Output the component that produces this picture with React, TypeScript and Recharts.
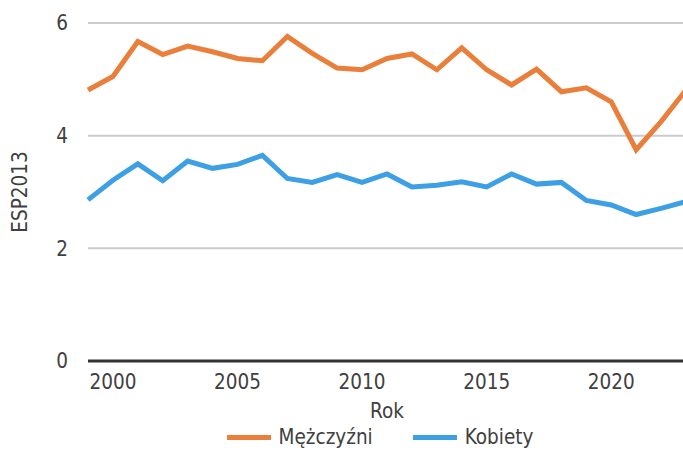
import React from 'react';
import { LineChart, Line, XAxis, YAxis, CartesianGrid, Legend, ReferenceLine } from 'recharts';

const years = [
  1999, 2000, 2001, 2002, 2003, 2004, 2005, 2006, 2007, 2008, 2009, 2010, 2011,
  2012, 2013, 2014, 2015, 2016, 2017, 2018, 2019, 2020, 2021, 2022, 2023,
];
const men = [
  4.81, 5.05, 5.67, 5.44, 5.59, 5.49, 5.37, 5.33, 5.76, 5.46, 5.2, 5.17, 5.37,
  5.45, 5.17, 5.56, 5.17, 4.9, 5.18, 4.78, 4.85, 4.6, 3.75, 4.25, 4.81,
];
const women = [
  2.86, 3.21, 3.5, 3.2, 3.55, 3.42, 3.49, 3.65, 3.24, 3.17, 3.31, 3.17, 3.32,
  3.09, 3.12, 3.18, 3.09, 3.32, 3.14, 3.17, 2.85, 2.77, 2.6, 2.71, 2.83,
];
const xTicks = [2000, 2005, 2010, 2015, 2020];
const yTicks = [0, 2, 4, 6];

const data = years.map((year, i) => ({ year, men: men[i], women: women[i] }));

const font = '"DejaVu Sans Condensed", "DejaVu Sans", sans-serif';
const fontSize = 20.5;
const textColor = '#404040';
const orange = '#e97f3b';
const blue = '#3d9fe4';
const textStyle = { fontStretch: 'condensed' as const };

// legend drawn by hand so the line swatches match the reference
const LegendContent = () => (
  <div style={{ display: 'flex', justifyContent: 'center', alignItems: 'center', fontFamily: font, fontStretch: 'condensed', fontSize, color: textColor, height: 26, paddingLeft: 74 }}>
    <span style={{ display: 'inline-block', width: 44, height: 5, background: orange, marginRight: 8 }} />
    <span style={{ marginRight: 40 }}>Mężczyźni</span>
    <span style={{ display: 'inline-block', width: 44, height: 5, background: blue, marginRight: 8 }} />
    <span>Kobiety</span>
  </div>
);

export default function App() {
  return (
    <div style={{ position: 'absolute', left: 0, top: 0, width: 683, height: 450, overflow: 'hidden', background: '#fff' }}>
      <LineChart width={700} height={450} data={data} margin={{ top: 23, right: 14, left: 0, bottom: 0 }}>
        <CartesianGrid vertical={false} stroke="#cccccc" strokeWidth={2} />
        <XAxis
          dataKey="year"
          type="number"
          domain={[1999, 2023]}
          ticks={xTicks}
          axisLine={false}
          tickLine={false}
          tickMargin={7}
          height={63}
          tick={{ fill: textColor, fontSize, fontFamily: font, style: textStyle }}
          label={{ value: 'Rok', position: 'insideBottom', offset: 6, fill: textColor, fontSize, fontFamily: font, style: textStyle }}
        />
        <YAxis
          domain={[0, 6]}
          ticks={yTicks}
          width={88}
          axisLine={false}
          tickLine={false}
          tickMargin={14}
          tick={{ fill: textColor, fontSize, fontFamily: font, style: textStyle }}
          label={{ value: 'ESP2013', angle: -90, position: 'insideLeft', offset: 20, fill: textColor, fontSize, fontFamily: font, style: { textAnchor: 'middle', fontStretch: 'condensed' } }}
        />
        <ReferenceLine y={0} stroke="#333333" strokeWidth={3} />
        <Line dataKey="men" name="Mężczyźni" stroke={orange} strokeWidth={5} dot={false} isAnimationActive={false} />
        <Line dataKey="women" name="Kobiety" stroke={blue} strokeWidth={5} dot={false} isAnimationActive={false} />
        <Legend verticalAlign="bottom" content={<LegendContent />} />
      </LineChart>
    </div>
  );
}
